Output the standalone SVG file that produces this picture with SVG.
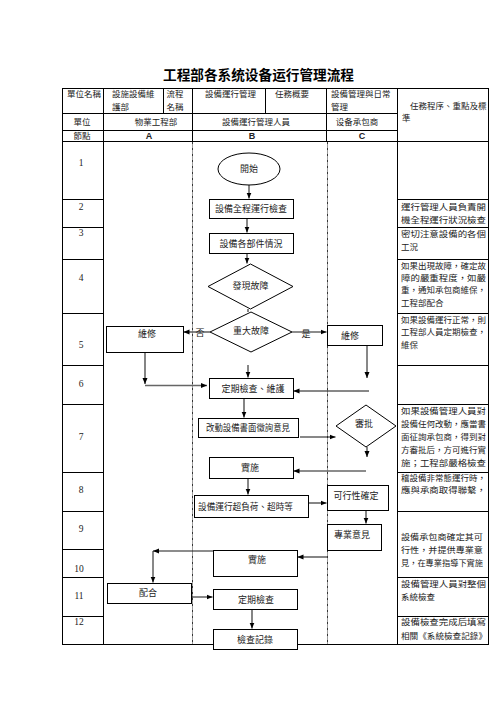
<svg xmlns="http://www.w3.org/2000/svg" width="504" height="713" viewBox="0 0 504 713">
<style>
.t{font-family:"Noto Sans CJK TC","Noto Sans CJK SC",sans-serif;font-size:9px;fill:#222}
.h{font-size:8.5px}
.s{font-size:8.5px}
.c{text-anchor:middle}
.n{font-family:"Liberation Serif",serif;font-size:9.5px;fill:#222;text-anchor:middle}
.abc{font-family:"Liberation Sans",sans-serif;font-size:9px;font-weight:bold;fill:#222;text-anchor:middle}
.ln{stroke:#000;stroke-width:1;fill:none}
.dash{stroke:#000;stroke-width:0.8;stroke-dasharray:3,1,1,1;fill:none}
.box{fill:#fff;stroke:#000;stroke-width:1}
.k{stroke:#111;stroke-width:1;fill:none;marker-end:url(#ah)}
.g{stroke:#666;stroke-width:1.6;fill:none;marker-end:url(#ah)}
.g0{stroke:#666;stroke-width:1.6;fill:none}
</style>
<defs>
<marker id="ah" viewBox="0 0 6 6" refX="6" refY="3" markerWidth="6" markerHeight="6" markerUnits="userSpaceOnUse" orient="auto"><path d="M0,0.5 L6,3 L0,5.5z" fill="#000"/></marker>
</defs>
<rect width="504" height="713" fill="#fff"/>
<text x="163" y="80" textLength="191" lengthAdjust="spacingAndGlyphs" style="font-family:'Noto Sans CJK SC',sans-serif;font-size:13.5px;font-weight:bold;fill:#000">工程部各系统设备运行管理流程</text>

<g id="table">
<rect x="62.5" y="88.5" width="426" height="556" class="ln"/>
<path class="ln" d="M62.5,113.5H397M62.5,130.5H397M62.5,141.5H488.5"/>
<path class="ln" d="M103.5,88.5V644.5M163.5,88.5V113.5M192.5,88.5V141.5M265.5,88.5V113.5M326.5,88.5V141.5M397.5,88.5V644.5"/>
<path class="dash" d="M192.5,141.5V644.5M327.5,141.5V644.5"/>
<path class="ln" d="M62.5,199.5H103.5M62.5,227.5H103.5M62.5,259.5H103.5M62.5,313.5H103.5M62.5,365.5H103.5M62.5,404.5H103.5M62.5,472.5H103.5M62.5,511.5H103.5M62.5,549.5H103.5M62.5,577.5H103.5M62.5,616.5H103.5"/>
<path class="ln" d="M397.5,199.5H488.5M397.5,227.5H488.5M397.5,259.5H488.5M397.5,313.5H488.5M397.5,365.5H488.5M397.5,404.5H488.5M397.5,472.5H488.5M397.5,511.5H488.5M397.5,577.5H488.5M397.5,616.5H488.5"/>
<text x="67" y="97" class="t h">單位名稱</text>
<text x="112" y="97" class="t h">設施設備維</text>
<text x="112" y="110" class="t h">護部</text>
<text x="175" y="97" class="t h c">流程</text>
<text x="175" y="110" class="t h c">名稱</text>
<text x="205" y="97" class="t h">設備運行管理</text>
<text x="275" y="97" class="t h">任務概要</text>
<text x="331" y="97" class="t h">設備管理與日常</text>
<text x="331" y="110" class="t h">管理</text>
<text x="410" y="109" class="t h">任務程序、重點及標</text>
<text x="402" y="121" class="t h">準</text>
<text x="82" y="125" class="t h c">單位</text>
<text x="156" y="125" class="t h c">物業工程部</text>
<text x="256" y="125" class="t h c">設備運行管理人員</text>
<text x="357" y="125" class="t h c">设备承包商</text>
<text x="82" y="139" class="t h c">節點</text>
<text x="149" y="139" class="abc">A</text>
<text x="252" y="139" class="abc">B</text>
<text x="362" y="139" class="abc">C</text>
<text x="81" y="166" class="n">1</text>
<text x="81" y="210" class="n">2</text>
<text x="81" y="236" class="n">3</text>
<text x="81" y="281" class="n">4</text>
<text x="81" y="348" class="n">5</text>
<text x="81" y="387" class="n">6</text>
<text x="81" y="440" class="n">7</text>
<text x="81" y="493" class="n">8</text>
<text x="81" y="532" class="n">9</text>
<text x="79" y="572" class="n">10</text>
<text x="79" y="599" class="n">11</text>
<text x="79" y="625" class="n">12</text>
</g>

<g id="notes">
<text x="401" y="210" class="t s" textLength="85" lengthAdjust="spacingAndGlyphs">運行管理人員負責開</text>
<text x="401" y="223" class="t s" textLength="85" lengthAdjust="spacingAndGlyphs">機全程運行狀況檢查</text>
<text x="401" y="237" class="t s" textLength="85" lengthAdjust="spacingAndGlyphs">密切注意設備的各個</text>
<text x="401" y="250" class="t s">工況</text>
<text x="401" y="269" class="t s" textLength="85" lengthAdjust="spacingAndGlyphs">如果出現故障，確定故</text>
<text x="401" y="281" class="t s" textLength="85" lengthAdjust="spacingAndGlyphs">障的嚴重程度，如嚴</text>
<text x="401" y="293" class="t s" textLength="85" lengthAdjust="spacingAndGlyphs">重，通知承包商維保，</text>
<text x="401" y="306" class="t s">工程部配合</text>
<text x="401" y="323" class="t s" textLength="85" lengthAdjust="spacingAndGlyphs">如果設備運行正常，則</text>
<text x="401" y="335" class="t s" textLength="85" lengthAdjust="spacingAndGlyphs">工程部人員定期檢查，</text>
<text x="401" y="348" class="t s">維保</text>
<text x="401" y="414" class="t s" textLength="85" lengthAdjust="spacingAndGlyphs">如果設備管理人員對</text>
<text x="401" y="427" class="t s" textLength="85" lengthAdjust="spacingAndGlyphs">設備任何改動，應當書</text>
<text x="401" y="440" class="t s" textLength="85" lengthAdjust="spacingAndGlyphs">面征詢承包商，得到對</text>
<text x="401" y="453" class="t s" textLength="85" lengthAdjust="spacingAndGlyphs">方審批后，方可進行實</text>
<text x="401" y="466" class="t s" textLength="85" lengthAdjust="spacingAndGlyphs">施；工程部嚴格檢查</text>
<text x="401" y="481" class="t s" textLength="85" lengthAdjust="spacingAndGlyphs">稽設備非常態運行時，</text>
<text x="401" y="493" class="t s" textLength="85" lengthAdjust="spacingAndGlyphs">應與承商取得聯繫，</text>
<text x="401" y="540" class="t s" textLength="82" lengthAdjust="spacingAndGlyphs">設備承包商確定其可</text>
<text x="401" y="553" class="t s" textLength="82" lengthAdjust="spacingAndGlyphs">行性，并提供專業意</text>
<text x="401" y="566" class="t s" textLength="82" lengthAdjust="spacingAndGlyphs">見，在專業指導下實施</text>
<text x="401" y="587" class="t s" textLength="85" lengthAdjust="spacingAndGlyphs">設備管理人員對整個</text>
<text x="401" y="600" class="t s">系統檢查</text>
<text x="401" y="625" class="t s" textLength="85" lengthAdjust="spacingAndGlyphs">設備檢查完成后填寫</text>
<text x="401" y="639" class="t s" textLength="86" lengthAdjust="spacingAndGlyphs">相關《系統檢查記錄》</text>
</g>

<g id="connectors">
<path class="k" d="M249,185V198.5"/>
<path class="k" d="M247,218V232.5"/>
<path class="k" d="M247,253V263.5"/>
<path class="g0" d="M248,309V312"/>
<path class="g" d="M210,332H183.5"/>
<path class="g" d="M292,332H326.5"/>
<path class="k" d="M248,365V377.5"/>
<path class="g" d="M145,352V384"/>
<path class="g" d="M145,385.5H207"/>
<path class="k" d="M367,346V378"/>
<path class="k" d="M369,391H293.5"/>
<path class="g" d="M244,398V417.5"/>
<path class="k" d="M300,437H335.5"/>
<path class="k" d="M367,447V457"/>
<path class="g" d="M366,471H293.5"/>
<path class="k" d="M248,478V494.5"/>
<path class="g" d="M308,503H326.5"/>
<path class="k" d="M366,510V523.5"/>
<path class="g" d="M327,557H297.5"/>
<path class="g" d="M213,551H153"/>
<path class="k" d="M153,551V582.5"/>
<path class="k" d="M191,597H212.5"/>
<path class="g" d="M252,609V628.5"/>
<text x="200" y="335.5" class="t c">否</text>
<text x="306" y="337" class="t c">是</text>
</g>

<g id="n_start"><ellipse cx="249" cy="169" rx="31" ry="16" class="box"/><text x="249" y="172" class="t c">開始</text></g>
<g id="n_check"><rect x="209.5" y="199.5" width="84" height="19" class="box"/><text x="251" y="212" class="t c">設備全程運行檢查</text></g>
<g id="n_parts"><rect x="209.5" y="233.5" width="84" height="20" class="box"/><text x="251" y="246.5" class="t c">設備各部件情況</text></g>
<g id="n_fault"><polygon points="250.5,264 293,286.5 250.5,309 208,286.5" class="box"/><text x="250.5" y="289" class="t c">發現故障</text></g>
<g id="n_major"><polygon points="251,312 292,332 251,352 210,332" class="box"/><text x="251" y="333.5" class="t c">重大故障</text></g>
<g id="n_repair_a"><rect x="106.5" y="326.5" width="77" height="26" class="box"/><text x="147" y="337" class="t c">維修</text></g>
<g id="n_repair_c"><rect x="327.5" y="325.5" width="55" height="20" class="box"/><text x="350" y="339" class="t c">維修</text></g>
<g id="n_periodic"><rect x="209.5" y="378.5" width="84" height="20" class="box"/><text x="253" y="391.5" class="t c">定期檢查、維護</text></g>
<g id="n_modify"><rect x="198.5" y="418.5" width="100" height="19" class="box"/><text x="206" y="431" class="t" textLength="84" lengthAdjust="spacingAndGlyphs">改動設備書面徵詢意見</text></g>
<g id="n_approve"><polygon points="366,405 396,426 366,447 336,426" class="box"/><text x="364" y="427" class="t c">審批</text></g>
<g id="n_impl1"><rect x="209.5" y="457.5" width="84" height="21" class="box"/><text x="250" y="471" class="t c">實施</text></g>
<g id="n_overload"><rect x="194.5" y="495.5" width="114" height="22" class="box"/><text x="198" y="509.5" class="t" textLength="95" lengthAdjust="spacingAndGlyphs">設備運行超負荷、超時等</text></g>
<g id="n_feasible"><rect x="327.5" y="485.5" width="61" height="25" class="box"/><text x="356" y="499" class="t c">可行性確定</text></g>
<g id="n_expert"><rect x="327.5" y="524.5" width="54" height="26" class="box"/><text x="352" y="538" class="t c">專業意見</text></g>
<g id="n_impl2"><rect x="213.5" y="550.5" width="84" height="26" class="box"/><text x="257" y="562.5" class="t c">實施</text></g>
<g id="n_cooperate"><rect x="107.5" y="583.5" width="84" height="20" class="box"/><text x="148" y="596" class="t c">配合</text></g>
<g id="n_periodic2"><rect x="213.5" y="589.5" width="84" height="20" class="box"/><text x="256" y="602.5" class="t c">定期檢查</text></g>
<g id="n_record"><rect x="213.5" y="629.5" width="84" height="20" class="box"/><text x="255" y="642.5" class="t c">檢查記錄</text></g>
</svg>
